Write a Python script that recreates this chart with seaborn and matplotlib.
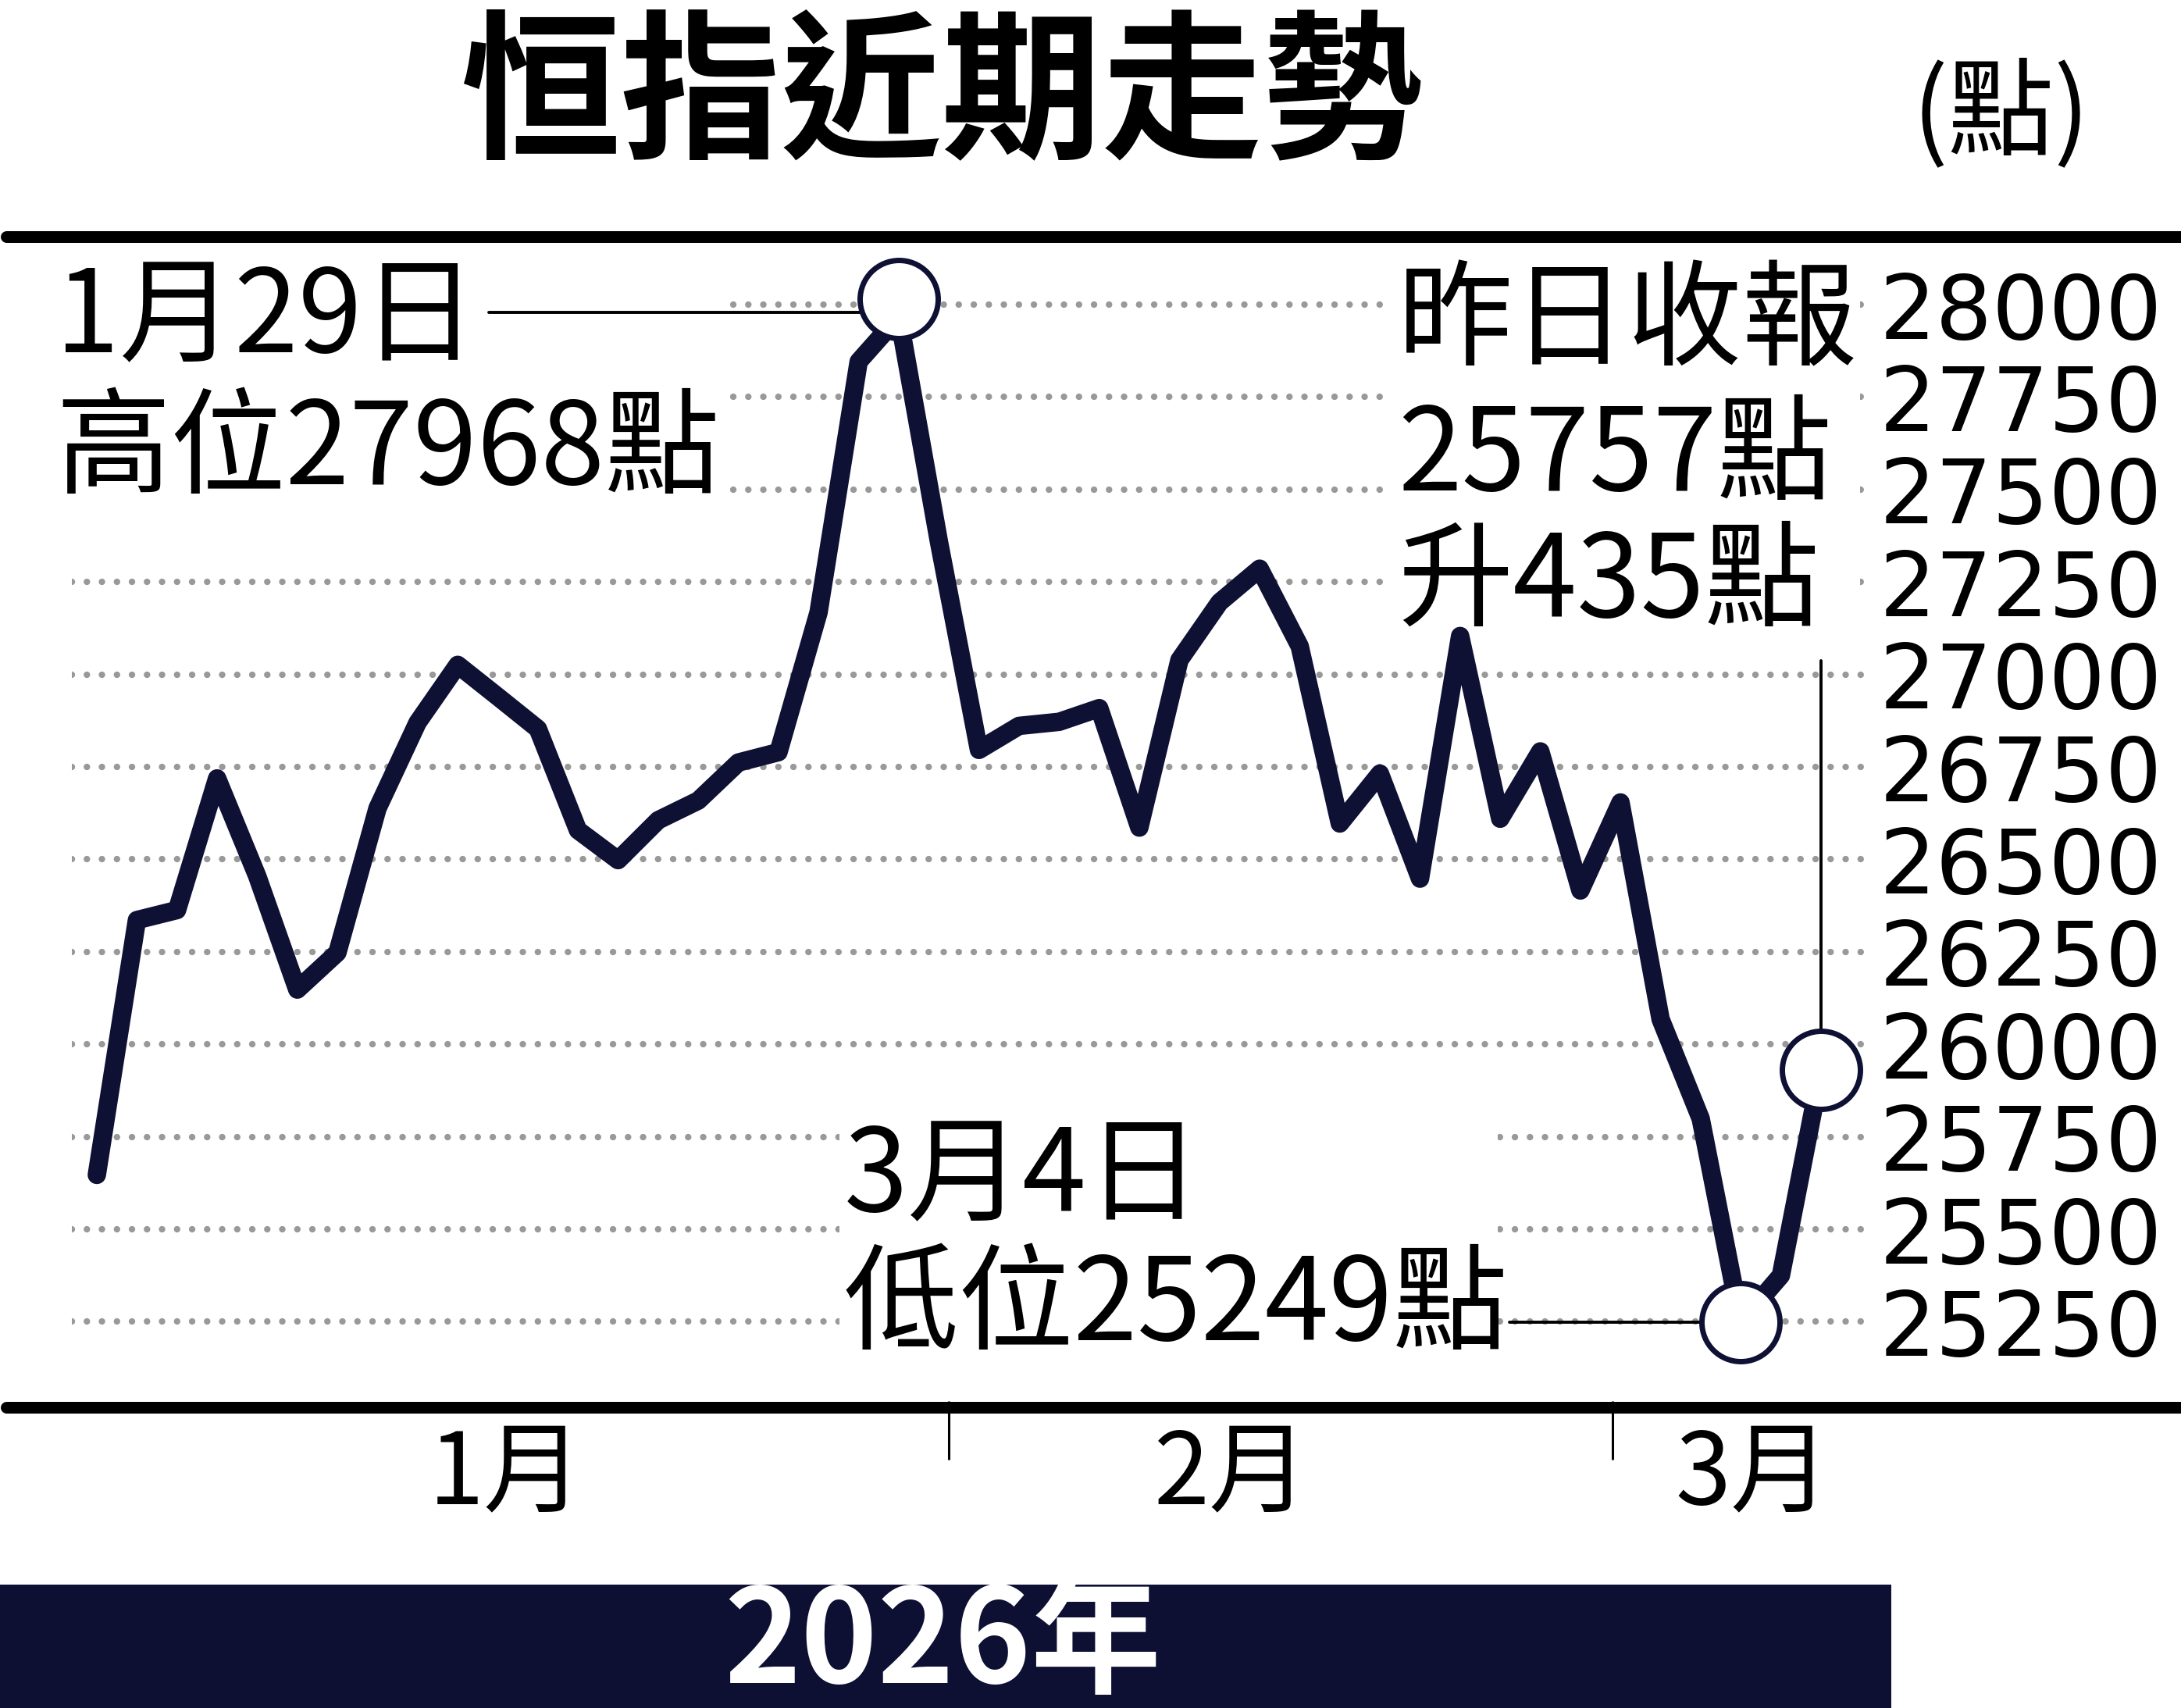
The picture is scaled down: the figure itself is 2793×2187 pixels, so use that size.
import matplotlib.pyplot as plt
import matplotlib.transforms as mtransforms
import seaborn as sns
import pandas as pd
from matplotlib.lines import Line2D
from matplotlib.patches import Rectangle

# 恒指收市（點），按交易日順序讀自原圖
closes = [25647, 26336, 26363, 26719, 26455, 26148, 26248, 26638, 26870, 27026,
          26940, 26853, 26579, 26498, 26606, 26659, 26762, 26790, 27168, 27846,
          27968, 27360, 26796, 26861, 26872, 26909, 26586, 27039, 27195, 27286,
          27076, 26597, 26732, 26448, 27104, 26610, 26792, 26416, 26654, 26068,
          25799, 25249, 25375, 25930]
hi_idx, lo_idx, last_idx = 20, 41, 43
y_ticks = list(range(25250, 28001, 250))
month_labels = ['1月', '2月', '3月']
month_label_pos = [10.2, 28.3, 41.3]
month_sep_pos = [21.25, 37.8]

NAVY = '#0e1034'
GREY = '#999999'
W, H = 2793, 2187

sns.set_theme(style='white')
plt.rcParams['font.family'] = ['Noto Sans CJK TC', 'DejaVu Sans']


def fx(p):
    return p / W


def fy(p):
    return 1 - p / H


df = pd.DataFrame({'idx': range(len(closes)), 'close': closes})

fig = plt.figure(figsize=(W / 100, H / 100), dpi=100, facecolor='white')
ax = fig.add_axes([fx(92), fy(1794), fx(2390) - fx(92), fy(310) - fy(1794)])
ax.set_facecolor('white')

# 點線網格
for v in y_ticks:
    ax.axhline(v, color=GREY, lw=6, linestyle=(0, (0.01, 2.3)),
               dash_capstyle='round', zorder=1)

# 文字後的白底
for x0, y0, x1, y1 in [(0, 340, 930, 655), (1782, 340, 2382, 815), (1075, 1440, 1918, 1752)]:
    ax.add_patch(Rectangle((fx(x0), fy(y1)), fx(x1) - fx(x0), fy(y0) - fy(y1),
                           transform=fig.transFigure, facecolor='white',
                           edgecolor='none', zorder=1.5, clip_on=False))

sns.lineplot(data=df, x='idx', y='close', ax=ax, color=NAVY, linewidth=17,
             zorder=3, solid_joinstyle='round', solid_capstyle='round')

# 指示線
ax.plot([9.78, hi_idx], [27979] * 2, color='black', lw=2.8, zorder=2.5)
ax.plot([35.23, lo_idx], [closes[lo_idx]] * 2, color='black', lw=2.8, zorder=2.5)
ax.plot([last_idx] * 2, [27037, closes[last_idx]], color='black', lw=2.8, zorder=2.5)

circ = dict(marker='o', ms=72, mfc='white', mec=NAVY, mew=5, zorder=4,
            clip_on=False, linestyle='none')
up = mtransforms.offset_copy(ax.transData, fig=fig, x=0, y=16, units='points')
ax.plot([hi_idx], [closes[hi_idx]], transform=up, **circ)
ax.plot([lo_idx, last_idx], [closes[lo_idx], closes[last_idx]], **circ)

ax.set_xlim(-0.623, 44.13)
ax.set_ylim(25035.5, 28169)
ax.set_xlabel('')
ax.set_ylabel('')
for s in ax.spines.values():
    s.set_visible(False)

ax.yaxis.tick_right()
ax.set_yticks(y_ticks)
ax.set_yticklabels([str(v) for v in y_ticks])
ax.tick_params(axis='y', length=0, pad=12, labelsize=82, colors='black')
for lab in ax.get_yticklabels():
    lab.set_fontfamily('DejaVu Sans')

ax.set_xticks(month_label_pos)
ax.set_xticklabels(month_labels)
ax.set_xticks(month_sep_pos, minor=True)
ax.tick_params(axis='x', which='major', length=0, pad=22, labelsize=92, colors='black')
ax.tick_params(axis='x', which='minor', bottom=True, length=54, width=2.2,
               color='black', direction='out')

# 上下粗線
fig.add_artist(Line2D([fx(8), 1], [fy(302.5)] * 2, color='black', lw=10.8))
fig.add_artist(Line2D([fx(8), 1], [fy(1801.5)] * 2, color='black', lw=10.8))

# 標題
fig.text(fx(1206), fy(126), '恒指近期走勢', ha='center', va='center',
         fontsize=148, fontweight='bold', color='black')
fig.text(fx(2563), fy(148), '(點)', ha='center', va='center', fontsize=98, color='black')

# 註解
ann = 106
for x, y, s in [(71, 410, '1月29日'), (71, 578, '高位27968點'),
                (1790, 415, '昨日收報'), (1790, 587, '25757點'), (1790, 748, '升435點'),
                (1081, 1510, '3月4日'), (1081, 1675, '低位25249點')]:
    fig.text(fx(x), fy(y), s, ha='left', va='center', fontsize=ann, color='black', zorder=6)

# 底部年份
fig.add_artist(Rectangle((0, 0), fx(2422), fy(2029), transform=fig.transFigure,
                         facecolor='#0d0f33', edgecolor='none'))
fig.text(fx(1207), fy(2106), '2026年', ha='center', va='center', fontsize=120,
         fontweight='bold', color='white')

fig.savefig('out.png', dpi=100, facecolor='white')
